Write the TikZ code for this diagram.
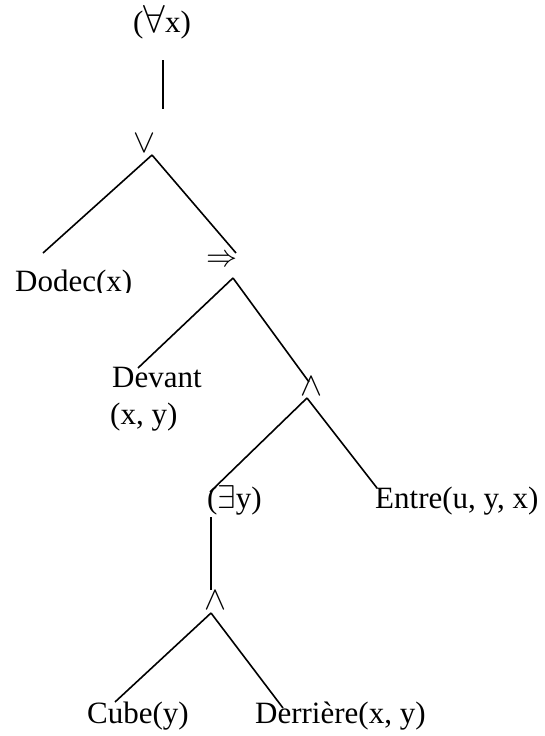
\RequirePackage{fix-cm}
\documentclass[tikz,border=0pt]{standalone}
\usepackage{fontspec}
\setmainfont{Liberation Serif}
\usetikzlibrary{calc}
\begin{document}
\begin{tikzpicture}[x=1pt,y=-1pt,
  lbl/.style={inner sep=0pt,anchor=base west,font=\fontsize{31}{36}\selectfont},
  sym/.style={inner sep=0pt,font=\fontsize{33}{36}\selectfont},
  edge/.style={line width=1.6pt}]
\useasboundingbox (0,0) rectangle (545,736);
% nodes
\node[lbl] (forall) at (133,32) {({\fontsize{39}{40}\selectfont\(\forall\)}x)};
\node[sym] (vee) at (144,143) {\(\vee\)};
\begin{scope}
\clip (0,0) rectangle (545,292);
\node[lbl] (dodec) at (15,291) {Dodec(x)};
\end{scope}
\node[sym,font=\fontsize{31}{36}\selectfont] (imp) at (222,261) {\(\Rightarrow\)};
\node[lbl] (devant) at (112,387) {Devant};
\node[lbl] (devantxy) at (110,424) {(x, y)};
\node[sym] (andA) at (311,386) {\(\wedge\)};
\node[lbl] (exists) at (207,508) {({\fontsize{33}{36}\selectfont\(\exists\)}y)};
\node[lbl] (entre) at (375,508) {Entre(u, y, x)};
\node[sym] (andB) at (215,600) {\(\wedge\)};
\node[lbl] (cube) at (87,723) {Cube(y)};
\node[lbl] (derr) at (255,723) {Derrière(x, y)};
% connectors
\draw[edge] ($(forall.base west)+(30,28)$) -- ($(vee)+(19,-34)$);
\draw[edge] ($(vee)+(8,12)$) -- ($(dodec.base west)+(28,-38)$);
\draw[edge] ($(vee)+(8,12)$) -- ($(imp)+(14,-8)$);
\draw[edge] ($(imp)+(11,17)$) -- ($(devant.base west)+(26,-19)$);
\draw[edge] ($(imp)+(11,17)$) -- ($(andA)+(-2,-4)$);
\draw[edge] ($(andA)+(-4,12)$) -- ($(exists.base west)+(3,-16)$);
\draw[edge] ($(andA)+(-4,12)$) -- ($(entre.base west)+(2,-20)$);
\draw[edge] ($(exists.base west)+(4,9)$) -- ($(andB)+(-4,-10)$);
\draw[edge] ($(andB)+(-4,13)$) -- ($(cube.base west)+(28,-21)$);
\draw[edge] ($(andB)+(-4,13)$) -- ($(derr.base west)+(28,-15)$);
\end{tikzpicture}
\end{document}
